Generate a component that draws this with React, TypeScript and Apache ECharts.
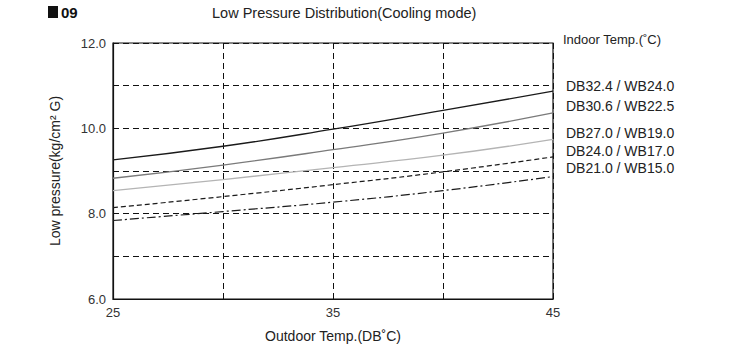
import React, { useEffect, useRef } from "react";
import * as echarts from "echarts";

const outdoorTemps = [25, 30, 35, 40, 45];
const seriesNames = [
  "DB32.4 / WB24.0",
  "DB30.6 / WB22.5",
  "DB27.0 / WB19.0",
  "DB24.0 / WB17.0",
  "DB21.0 / WB15.0",
];
const db324 = [9.26, 9.58, 9.98, 10.42, 10.87];
const db306 = [8.83, 9.14, 9.5, 9.89, 10.36];
const db270 = [8.54, 8.8, 9.08, 9.37, 9.74];
const db240 = [8.14, 8.4, 8.68, 8.98, 9.33];
const db210 = [7.84, 8.05, 8.27, 8.54, 8.87];
const seriesValues = [db324, db306, db270, db240, db210];
const xTickLabels = [25, 35, 45];
const yTickLabels = [6, 8, 10, 12];
const labelTops = [87, 107, 134, 152, 169];

const lineStyles = [
  { color: "#1a1a1a", width: 1.3, type: "solid" as any },
  { color: "#7a7a7a", width: 1.3, type: "solid" as any },
  { color: "#b4b4b4", width: 1.3, type: "solid" as any },
  { color: "#1a1a1a", width: 1.2, type: [5, 3] as any },
  { color: "#1a1a1a", width: 1.2, type: [9, 3, 2, 3] as any },
];

const FONT = "'Liberation Sans', Arial, sans-serif";

export default function App() {
  const ref = useRef<HTMLDivElement>(null);
  useEffect(() => {
    if (!ref.current) return;
    const chart = echarts.init(ref.current, null, { renderer: "svg" });
    chart.setOption({
      animation: false,
      backgroundColor: "#ffffff",
      textStyle: { fontFamily: FONT },
      grid: {
        left: 113,
        right: 177,
        top: 43,
        bottom: 51,
        show: true,
        borderColor: "#111",
        borderWidth: 1.2,
        backgroundColor: "transparent",
      },
      xAxis: {
        type: "value",
        min: 25,
        max: 45,
        interval: 5,
        name: "Outdoor Temp.(DB˚C)",
        nameLocation: "middle",
        nameGap: 30,
        nameTextStyle: { fontSize: 14, color: "#222", fontFamily: FONT },
        axisLine: { show: true, lineStyle: { color: "#111", width: 1.2 } },
        axisTick: { show: false },
        splitLine: { show: true, lineStyle: { color: "#111", type: [6, 4], width: 1 } },
        axisLabel: {
          fontSize: 13,
          color: "#333",
          margin: 7,
          formatter: (v: number) => (xTickLabels.includes(v) ? String(v) : ""),
        },
      },
      yAxis: {
        type: "value",
        min: 6,
        max: 12,
        interval: 1,
        name: "Low pressure(kg/cm² G)",
        nameLocation: "middle",
        nameGap: 51,
        nameTextStyle: { fontSize: 14, color: "#222", fontFamily: FONT },
        axisLine: { show: true, lineStyle: { color: "#111", width: 1.2 } },
        axisTick: { show: false },
        splitLine: { show: true, lineStyle: { color: "#111", type: [6, 4], width: 1 } },
        axisLabel: {
          fontSize: 13,
          color: "#333",
          margin: 7,
          formatter: (v: number) => (yTickLabels.includes(v) ? v.toFixed(1) : ""),
        },
      },
      series: seriesNames.map((name, i) => ({
        name,
        type: "line",
        smooth: true,
        symbol: "none",
        data: outdoorTemps.map((x, j) => [x, seriesValues[i][j]]),
        lineStyle: lineStyles[i],
        z: 5,
      })),
      graphic: [
        {
          type: "rect",
          shape: { x: 48, y: 6, width: 10, height: 12 },
          style: { fill: "#111" },
        },
        {
          type: "text",
          left: 61,
          top: 5,
          style: { text: "09", font: `bold 15px ${FONT}`, fill: "#111" },
        },
        {
          type: "text",
          left: 212,
          top: 5,
          style: { text: "Low Pressure Distribution(Cooling mode)", font: `14.5px ${FONT}`, fill: "#222" },
        },
        {
          type: "text",
          left: 563,
          top: 33,
          style: { text: "Indoor Temp.(˚C)", font: `13px ${FONT}`, fill: "#222" },
        },
        ...seriesNames.map((name, i) => ({
          type: "text",
          left: 566,
          top: labelTops[i] - 8,
          style: { text: name, font: `14px ${FONT}`, fill: "#222" },
        })),
      ],
    });
    return () => chart.dispose();
  }, []);
  return (
    <div
      ref={ref}
      style={{ position: "fixed", left: 0, top: 0, width: 730, height: 350 }}
    />
  );
}
